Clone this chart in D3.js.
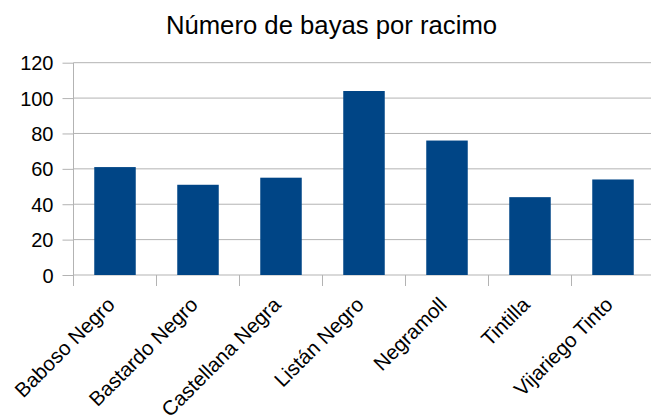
<!DOCTYPE html>
<html>
<head>
<meta charset="utf-8">
<script src="https://cdn.jsdelivr.net/npm/d3@7/dist/d3.min.js"></script>
<style>
  html, body { margin: 0; padding: 0; background: #fff; }
  svg { display: block; font-family: "Liberation Sans", Arial, sans-serif; }
</style>
</head>
<body>
<svg id="chart" width="651" height="416"></svg>
<script>
// Berry count per bunch, by grape variety
const chartTitle = "Número de bayas por racimo";
const categories = ["Baboso Negro", "Bastardo Negro", "Castellana Negra", "Listán Negro", "Negramoll", "Tintilla", "Vijariego Tinto"];
const values = [61, 51, 55, 104, 76, 44, 54];
const yTicks = [0, 20, 40, 60, 80, 100, 120];

const svg = d3.select("#chart");
const W = 651, H = 416;
const plot = { left: 73.5, right: 654.5, top: 62.7, bottom: 275 };
const gridColor = "#b3b3b3";
const barColor = "#004586";

const x = d3.scaleBand()
  .domain(categories)
  .range([plot.left, plot.right])
  .paddingInner(0.5)
  .paddingOuter(0.25);

const y = d3.scaleLinear()
  .domain([0, 120])
  .range([plot.bottom, plot.top]);

// horizontal gridlines
svg.append("g")
  .selectAll("line")
  .data(yTicks)
  .join("line")
  .attr("x1", plot.left)
  .attr("x2", W)
  .attr("y1", d => y(d))
  .attr("y2", d => y(d))
  .attr("stroke", gridColor)
  .attr("stroke-width", 1);

// bars
svg.append("g")
  .selectAll("rect")
  .data(values)
  .join("rect")
  .attr("x", (d, i) => x(categories[i]))
  .attr("width", x.bandwidth())
  .attr("y", d => y(d))
  .attr("height", d => y(0) - y(d))
  .attr("fill", barColor);

// y axis
const yAxis = d3.axisLeft(y)
  .tickValues(yTicks)
  .tickSize(11)
  .tickPadding(9);
const gy = svg.append("g")
  .attr("transform", `translate(${plot.left},0)`)
  .call(yAxis);
gy.select(".domain").remove();
gy.selectAll(".tick line").attr("stroke", gridColor);
gy.selectAll(".tick text")
  .attr("fill", "#000")
  .style("font-size", "20px")
  .attr("dy", "0.35em");
gy.append("line")
  .attr("x1", 0).attr("x2", 0)
  .attr("y1", plot.top).attr("y2", plot.bottom + 11)
  .attr("stroke", gridColor);

// x axis: ticks at category boundaries
const step = x.step();
const boundaries = d3.range(categories.length + 1).map(i => plot.left + i * step);
svg.append("g")
  .selectAll("line")
  .data(boundaries)
  .join("line")
  .attr("x1", d => d).attr("x2", d => d)
  .attr("y1", plot.bottom).attr("y2", plot.bottom + 11)
  .attr("stroke", gridColor);

// rotated category labels
svg.append("g")
  .selectAll("text")
  .data(categories)
  .join("text")
  .attr("transform", d => `translate(${x(d) + x.bandwidth() / 2 + 1},${plot.bottom + 31}) rotate(-45)`)
  .attr("text-anchor", "end")
  .style("font-size", "20.5px")
  .attr("fill", "#000")
  .text(d => d);

// title
svg.append("text")
  .attr("x", 331.5)
  .attr("y", 34)
  .attr("text-anchor", "middle")
  .style("font-size", "25.7px")
  .attr("fill", "#000")
  .text(chartTitle);
</script>
</body>
</html>
